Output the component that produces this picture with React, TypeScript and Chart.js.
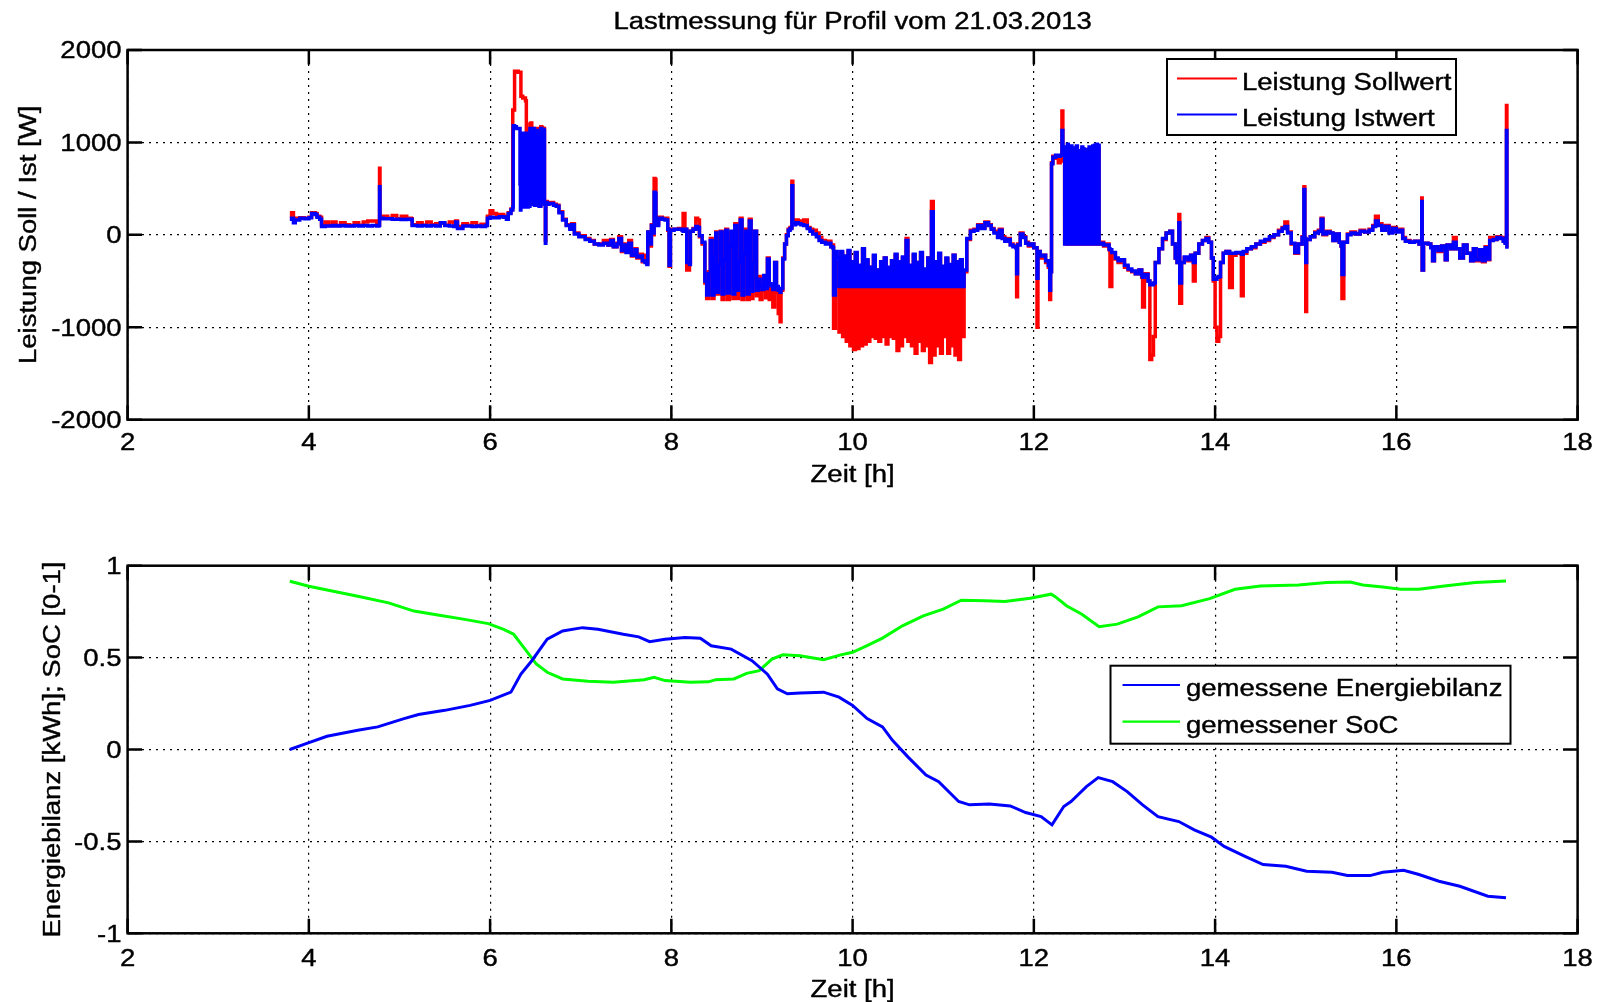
import React, { useEffect, useRef } from "react";
import { Chart, registerables } from "chart.js";

Chart.register(...registerables);

const FONT = "Arial, 'Liberation Sans', Helvetica, sans-serif";
const FONT_SIZE = 23.5;
const TEXT_STRETCH = 1.17;

const chartTitle = "Lastmessung für Profil vom 21.03.2013";
const xAxisTitle = "Zeit [h]";
const topYAxisTitle = "Leistung Soll / Ist [W]";
const bottomYAxisTitle = "Energiebilanz [kWh]; SoC [0-1]";
const topLegendLabels = ["Leistung Sollwert", "Leistung Istwert"];
const bottomLegendLabels = ["gemessene Energiebilanz", "gemessener SoC"];

const xTicks = [2, 4, 6, 8, 10, 12, 14, 16, 18];
const topYTicks = [-2000, -1000, 0, 1000, 2000];
const bottomYTicks = [-1, -0.5, 0, 0.5, 1];

// [Zeit in h, Leistung in W]
const sollwert: number[][] = [
  [3.79,200],[3.81,240],[3.83,170],[3.85,180],[3.9,185],[3.95,180],[4.0,190],[4.03,240],[4.07,230],[4.09,200],
  [4.12,190],[4.14,110],[4.18,140],[4.22,100],[4.26,140],[4.3,100],[4.35,130],[4.4,110],[4.45,100],[4.5,130],
  [4.55,105],[4.6,140],[4.65,150],[4.7,150],[4.75,105],[4.77,110],[4.78,720],[4.785,190],[4.82,200],[4.87,180],
  [4.92,210],[4.97,175],[5.02,200],[5.08,180],[5.13,175],[5.14,110],[5.2,130],[5.25,105],[5.3,140],[5.35,110],
  [5.4,120],[5.45,125],[5.5,105],[5.55,140],[5.6,110],[5.62,150],[5.64,90],[5.7,120],[5.75,105],[5.8,130],
  [5.85,100],[5.9,115],[5.95,105],[5.97,200],[6.0,260],[6.03,230],[6.07,200],[6.1,220],[6.15,190],[6.18,200],
  [6.2,240],[6.23,280],
  [6.25,1350],[6.255,1350],[6.27,1770],[6.29,1770],[6.31,1760],[6.33,1760],[6.335,1760],[6.34,1500],[6.36,1480],
  [6.37,1480],[6.38,1480],[6.39,1450],[6.4,700],[6.41,680],[6.42,1100],[6.43,1150],[6.44,1200],[6.45,1210],
  [6.46,1150],[6.47,350],[6.48,1100],[6.49,340],[6.5,1150],[6.52,1100],[6.525,330],[6.54,320],[6.56,1170],
  [6.57,1160],[6.58,1150],[6.595,1150],[6.6,350],[6.61,-60],[6.615,360],[6.63,340],
  [6.65,350],[6.7,330],[6.73,320],[6.76,250],[6.8,170],[6.84,110],[6.88,80],[6.9,120],[6.93,20],[6.98,-10],
  [7.05,-40],[7.1,-60],[7.15,-100],[7.2,-100],[7.25,-60],[7.3,-110],[7.33,-50],[7.36,-130],[7.4,-90],[7.42,-20],
  [7.45,-180],[7.48,-100],[7.5,-180],[7.53,-60],[7.56,-230],[7.6,-150],[7.62,-250],[7.65,-210],[7.68,-290],
  [7.71,-220],[7.73,-310],[7.74,30],[7.76,-120],[7.78,110],[7.8,0],[7.81,610],[7.82,600],[7.83,120],[7.86,190],
  [7.9,170],[7.93,180],[7.96,50],[7.975,-340],[7.99,60],[8.03,60],[8.08,70],[8.12,50],[8.13,230],[8.15,60],
  [8.17,-380],[8.2,-300],[8.21,40],[8.24,70],[8.27,180],[8.29,160],[8.31,-20],[8.34,-100],
  [8.37,-520],[8.39,-690],[8.41,-400],[8.43,-40],[8.45,-690],[8.47,-200],[8.49,30],[8.5,-640],[8.52,-300],
  [8.54,40],[8.56,-700],[8.58,-250],[8.6,60],[8.62,-700],[8.64,-100],[8.66,20],[8.68,-690],[8.7,120],[8.72,-690],
  [8.74,-300],[8.76,180],[8.78,-700],[8.8,-200],[8.82,60],[8.84,-700],[8.86,170],[8.88,-690],[8.9,-300],[8.92,40],
  [8.94,-660],[8.96,-450],[8.98,-700],[9.0,-600],[9.02,-450],[9.04,-680],[9.06,-250],[9.08,-700],[9.1,-550],
  [9.12,-780],[9.14,-300],[9.16,-620],[9.18,-850],[9.2,-940],[9.21,-600],[9.23,-250],[9.25,-100],[9.27,0],
  [9.29,60],[9.31,80],[9.33,580],[9.34,120],[9.37,160],[9.4,150],[9.43,130],[9.46,160],[9.5,80],[9.53,60],
  [9.56,50],[9.6,20],[9.63,-30],[9.66,-60],[9.7,-80],[9.73,-70],[9.76,-130],[9.78,-110],[9.79,-1010],[9.81,-500],
  [9.83,-300],[9.85,-1050],[9.87,-200],[9.89,-1100],[9.91,-250],[9.93,-1150],[9.95,-180],[9.97,-1200],[9.99,-300],
  [10.01,-1240],[10.03,-200],[10.05,-1230],[10.07,-350],[10.09,-1200],[10.11,-160],[10.13,-1180],[10.15,-280],
  [10.17,-1150],[10.19,-350],[10.21,-1100],[10.23,-230],[10.25,-1120],[10.27,-380],[10.29,-1150],[10.31,-300],
  [10.33,-1100],[10.35,-250],[10.37,-1180],[10.39,-360],[10.41,-1100],[10.43,-280],[10.45,-1120],[10.47,-220],
  [10.49,-1250],[10.51,-300],[10.53,-1200],[10.55,-250],[10.57,-1100],[10.59,-40],[10.61,-1150],[10.63,-350],
  [10.65,-1200],[10.67,-220],[10.69,-1280],[10.71,-300],[10.73,-1150],[10.75,-200],[10.77,-1250],[10.79,-380],
  [10.81,-1200],[10.83,-250],[10.85,-1380],[10.87,360],[10.89,-1300],[10.91,-300],[10.93,-1200],[10.95,-210],
  [10.97,-1280],[10.99,-350],[11.01,-1100],[11.03,-260],[11.05,-1280],[11.07,-330],[11.09,-1200],[11.11,-220],
  [11.13,-1300],[11.15,-300],[11.17,-1350],[11.19,-280],[11.21,-1100],[11.23,-400],
  [11.26,-50],[11.3,50],[11.34,60],[11.38,110],[11.42,80],[11.46,140],[11.5,110],[11.53,70],[11.56,40],[11.6,-20],
  [11.62,60],[11.65,-20],[11.68,-60],[11.71,-40],[11.74,-100],[11.77,-120],[11.8,-130],[11.81,-670],[11.82,-100],
  [11.85,20],[11.88,-20],[11.91,-80],[11.94,-120],[11.97,-100],[12.0,-140],[12.035,-1000],[12.045,-180],
  [12.07,-250],[12.1,-220],[12.13,-300],[12.16,-350],[12.175,-700],[12.185,-400],[12.195,780],[12.21,850],
  [12.24,830],[12.27,780],[12.29,800],[12.31,1340],[12.32,900],
  [12.33,920],[12.34,-90],[12.35,900],[12.36,-100],[12.37,950],[12.38,-90],[12.39,900],[12.4,-100],[12.41,930],
  [12.42,-90],[12.43,920],[12.44,-100],[12.45,880],[12.46,-90],[12.47,950],[12.48,-100],[12.49,900],[12.5,-100],
  [12.51,880],[12.52,-90],[12.53,930],[12.54,-100],[12.55,920],[12.56,-90],[12.57,870],[12.58,-100],[12.59,900],
  [12.6,-90],[12.61,930],[12.62,-100],[12.63,910],[12.64,-90],[12.65,950],[12.66,-100],[12.67,940],[12.68,-90],
  [12.69,950],[12.7,-100],[12.71,940],[12.72,-100],
  [12.74,-80],[12.77,-120],[12.8,-100],[12.83,-160],[12.84,-560],[12.86,-200],[12.9,-260],[12.93,-300],
  [12.96,-280],[13.0,-350],[13.04,-380],[13.08,-400],[13.12,-420],[13.16,-380],[13.19,-460],[13.2,-780],
  [13.22,-420],[13.26,-500],[13.28,-1350],[13.3,-1300],[13.32,-1100],[13.34,-300],[13.38,-150],[13.42,-50],
  [13.46,20],[13.5,40],[13.53,-100],[13.56,-250],[13.58,-300],[13.6,220],[13.61,-740],[13.63,-300],[13.66,-250],
  [13.7,-280],[13.73,-220],[13.76,-500],[13.78,-200],[13.82,-100],[13.86,-60],[13.9,-30],[13.93,-80],[13.96,-250],
  [13.98,-500],[14.0,-1000],[14.02,-1150],[14.04,-1100],[14.06,-300],[14.09,-200],[14.12,-180],[14.16,-570],
  [14.19,-220],[14.23,-200],[14.29,-660],[14.31,-200],[14.35,-150],[14.4,-140],[14.45,-100],[14.5,-80],
  [14.55,-60],[14.6,-30],[14.65,0],[14.7,50],[14.74,80],[14.77,140],[14.8,30],[14.84,-100],[14.88,-200],
  [14.92,-100],[14.96,-20],[14.98,520],[14.99,-40],[15.0,-830],[15.01,-50],[15.05,-20],[15.1,30],[15.14,50],
  [15.17,180],[15.19,0],[15.23,40],[15.27,20],[15.3,-60],[15.33,10],[15.37,-80],[15.39,-120],[15.4,-690],
  [15.42,-80],[15.46,10],[15.5,30],[15.55,10],[15.6,50],[15.65,30],[15.7,60],[15.74,100],[15.77,200],[15.8,120],
  [15.84,60],[15.88,100],[15.92,30],[15.96,80],[16.0,40],[16.04,60],[16.07,-30],[16.1,-60],[16.15,-80],
  [16.2,-70],[16.25,-100],[16.28,400],[16.285,-380],[16.3,-90],[16.35,-100],[16.38,-130],[16.4,-280],
  [16.42,-130],[16.46,-180],[16.5,-120],[16.54,-270],[16.56,-110],[16.6,-150],[16.63,-30],[16.66,-150],
  [16.7,-250],[16.74,-110],[16.78,-200],[16.82,-280],[16.85,-150],[16.88,-280],[16.92,-160],[16.95,-290],
  [16.98,-130],[17.01,-270],[17.03,-30],[17.07,-50],[17.11,-20],[17.15,-30],[17.18,-60],[17.2,-80],
  [17.215,1400],[17.22,-140],
];

// [Zeit in h, Leistung in W]
const istwert: number[][] = [
  [3.79,170],[3.81,180],[3.83,130],[3.85,160],[3.9,180],[3.95,175],[4.0,185],[4.03,230],[4.07,220],[4.09,190],
  [4.12,170],[4.14,90],[4.18,95],[4.22,95],[4.26,100],[4.3,95],[4.35,100],[4.4,95],[4.45,95],[4.5,100],
  [4.55,95],[4.6,100],[4.65,95],[4.7,100],[4.75,95],[4.77,100],[4.78,520],[4.785,180],[4.82,175],[4.87,175],
  [4.92,170],[4.97,170],[5.02,165],[5.08,170],[5.13,165],[5.14,100],[5.2,95],[5.25,100],[5.3,95],[5.35,100],
  [5.4,95],[5.45,130],[5.5,100],[5.55,95],[5.6,90],[5.62,140],[5.64,70],[5.7,95],[5.75,95],[5.8,90],
  [5.85,95],[5.9,90],[5.95,100],[5.97,180],[6.0,190],[6.03,185],[6.07,185],[6.1,195],[6.15,190],[6.18,170],
  [6.2,230],[6.23,270],
  [6.25,300],[6.255,1180],[6.27,1170],[6.29,1150],[6.31,1150],[6.33,550],[6.335,270],[6.34,1050],[6.36,1100],
  [6.37,300],[6.38,1000],[6.39,700],[6.4,1100],[6.41,300],[6.42,1050],[6.43,310],[6.44,1150],[6.45,330],
  [6.46,1100],[6.47,330],[6.48,1150],[6.49,320],[6.5,1130],[6.52,1100],[6.525,320],[6.54,310],[6.56,1150],
  [6.57,350],[6.58,1140],[6.595,1130],[6.6,330],[6.61,-90],[6.615,350],[6.63,330],
  [6.65,340],[6.7,320],[6.73,310],[6.76,240],[6.8,160],[6.84,100],[6.88,60],[6.9,110],[6.93,10],[6.98,-20],
  [7.05,-50],[7.1,-70],[7.15,-100],[7.2,-110],[7.25,-90],[7.3,-110],[7.33,-60],[7.36,-130],[7.4,-100],[7.42,-40],
  [7.45,-170],[7.48,-110],[7.5,-190],[7.53,-90],[7.56,-220],[7.6,-160],[7.62,-240],[7.65,-230],[7.68,-280],
  [7.71,-300],[7.73,-320],[7.74,30],[7.76,-100],[7.78,100],[7.8,20],[7.81,460],[7.82,450],[7.83,100],[7.86,180],
  [7.9,170],[7.93,160],[7.96,60],[7.975,-330],[7.99,50],[8.03,60],[8.08,60],[8.12,50],[8.13,40],[8.15,60],
  [8.17,-300],[8.2,-320],[8.21,40],[8.24,60],[8.27,90],[8.29,80],[8.31,-10],[8.34,-80],
  [8.37,-500],[8.39,-650],[8.41,-420],[8.43,-60],[8.45,-650],[8.47,-220],[8.49,20],[8.5,-620],[8.52,-320],
  [8.54,30],[8.56,-640],[8.58,-270],[8.6,50],[8.62,-630],[8.64,-120],[8.66,40],[8.68,-640],[8.7,100],[8.72,-600],
  [8.74,-300],[8.76,160],[8.78,-650],[8.8,-200],[8.82,40],[8.84,-640],[8.86,150],[8.88,-610],[8.9,-310],[8.92,40],
  [8.94,-600],[8.96,-480],[8.98,-560],[9.0,-590],[9.02,-440],[9.04,-580],[9.06,-260],[9.08,-530],[9.1,-550],
  [9.12,-590],[9.14,-300],[9.16,-560],[9.18,-600],[9.2,-620],[9.21,-580],[9.23,-260],[9.25,-100],[9.27,-10],
  [9.29,50],[9.31,70],[9.33,530],[9.34,110],[9.37,130],[9.4,120],[9.43,110],[9.46,100],[9.5,70],[9.53,40],
  [9.56,10],[9.6,-20],[9.63,-60],[9.66,-80],[9.7,-100],[9.73,-90],[9.76,-130],[9.78,-140],[9.79,-650],[9.81,-180],
  [9.83,-250],[9.85,-560],[9.87,-180],[9.89,-560],[9.91,-230],[9.93,-560],[9.95,-170],[9.97,-560],[9.99,-290],
  [10.01,-560],[10.03,-190],[10.05,-560],[10.07,-330],[10.09,-560],[10.11,-150],[10.13,-560],[10.15,-270],
  [10.17,-560],[10.19,-350],[10.21,-560],[10.23,-220],[10.25,-560],[10.27,-380],[10.29,-560],[10.31,-290],
  [10.33,-560],[10.35,-250],[10.37,-560],[10.39,-350],[10.41,-560],[10.43,-280],[10.45,-560],[10.47,-210],
  [10.49,-560],[10.51,-290],[10.53,-560],[10.55,-240],[10.57,-560],[10.59,-60],[10.61,-560],[10.63,-330],
  [10.65,-560],[10.67,-210],[10.69,-560],[10.71,-300],[10.73,-560],[10.75,-190],[10.77,-560],[10.79,-370],
  [10.81,-560],[10.83,-250],[10.85,-560],[10.87,250],[10.89,-560],[10.91,-290],[10.93,-560],[10.95,-200],
  [10.97,-560],[10.99,-340],[11.01,-560],[11.03,-250],[11.05,-560],[11.07,-320],[11.09,-560],[11.11,-220],
  [11.13,-560],[11.15,-290],[11.17,-560],[11.19,-270],[11.21,-560],[11.23,-380],
  [11.26,-40],[11.3,40],[11.34,50],[11.38,100],[11.42,70],[11.46,130],[11.5,100],[11.53,60],[11.56,20],[11.6,-30],
  [11.62,50],[11.65,-40],[11.68,-70],[11.71,-50],[11.74,-110],[11.77,-130],[11.8,-140],[11.81,-420],[11.82,-110],
  [11.85,10],[11.88,-30],[11.91,-90],[11.94,-110],[11.97,-100],[12.0,-140],[12.035,-470],[12.045,-180],
  [12.07,-230],[12.1,-220],[12.13,-280],[12.16,-330],[12.175,-600],[12.185,-400],[12.195,770],[12.21,840],
  [12.24,860],[12.27,850],[12.29,860],[12.31,1130],[12.32,880],
  [12.33,950],[12.34,-100],[12.35,920],[12.36,-100],[12.37,980],[12.38,-90],[12.39,910],[12.4,-100],[12.41,960],
  [12.42,-90],[12.43,940],[12.44,-100],[12.45,900],[12.46,-100],[12.47,960],[12.48,-100],[12.49,910],[12.5,-100],
  [12.51,900],[12.52,-90],[12.53,950],[12.54,-100],[12.55,930],[12.56,-100],[12.57,880],[12.58,-100],[12.59,920],
  [12.6,-100],[12.61,950],[12.62,-100],[12.63,930],[12.64,-90],[12.65,960],[12.66,-100],[12.67,970],[12.68,-100],
  [12.69,980],[12.7,-100],[12.71,970],[12.72,-100],
  [12.74,-90],[12.77,-110],[12.8,-110],[12.83,-150],[12.84,-160],[12.86,-190],[12.9,-250],[12.93,-280],
  [12.96,-270],[13.0,-330],[13.04,-370],[13.08,-390],[13.12,-420],[13.16,-380],[13.19,-440],[13.2,-460],
  [13.22,-430],[13.26,-500],[13.28,-540],[13.3,-540],[13.32,-520],[13.34,-300],[13.38,-150],[13.42,-40],
  [13.46,20],[13.5,40],[13.53,-100],[13.56,-250],[13.58,-300],[13.6,130],[13.61,-520],[13.63,-300],[13.66,-240],
  [13.7,-270],[13.73,-220],[13.76,-300],[13.78,-200],[13.82,-100],[13.86,-60],[13.9,-40],[13.93,-80],[13.96,-250],
  [13.98,-480],[14.0,-480],[14.02,-460],[14.04,-450],[14.06,-300],[14.09,-200],[14.12,-180],[14.16,-200],
  [14.19,-200],[14.23,-190],[14.29,-210],[14.31,-180],[14.35,-150],[14.4,-130],[14.45,-100],[14.5,-70],
  [14.55,-50],[14.6,-20],[14.65,0],[14.7,40],[14.74,70],[14.77,90],[14.8,20],[14.84,-90],[14.88,-190],
  [14.92,-100],[14.96,-30],[14.98,490],[14.99,-40],[15.0,-300],[15.01,-50],[15.05,-20],[15.1,20],[15.14,40],
  [15.17,170],[15.19,10],[15.23,30],[15.27,20],[15.3,-60],[15.33,10],[15.37,-80],[15.39,-120],[15.4,-430],
  [15.42,-80],[15.46,0],[15.5,20],[15.55,10],[15.6,40],[15.65,30],[15.7,50],[15.74,90],[15.77,150],[15.8,100],
  [15.84,50],[15.88,90],[15.92,20],[15.96,70],[16.0,30],[16.04,50],[16.07,-40],[16.1,-70],[16.15,-80],
  [16.2,-70],[16.25,-100],[16.28,360],[16.285,-380],[16.3,-90],[16.35,-100],[16.38,-140],[16.4,-280],
  [16.42,-130],[16.46,-170],[16.5,-120],[16.54,-270],[16.56,-110],[16.6,-150],[16.63,-80],[16.66,-150],
  [16.7,-250],[16.74,-110],[16.78,-200],[16.82,-280],[16.85,-150],[16.88,-270],[16.92,-160],[16.95,-280],
  [16.98,-140],[17.01,-260],[17.03,-60],[17.07,-50],[17.11,-30],[17.15,-40],[17.18,-70],[17.2,-90],
  [17.215,1130],[17.22,-150],
];

// [Zeit in h, Energiebilanz in kWh]
const energiebilanz: number[][] = [
  [3.79,0],[3.97,0.032],[4.2,0.072],[4.54,0.105],[4.76,0.123],[5.05,0.168],[5.21,0.19],[5.5,0.213],[5.78,0.24],
  [6.0,0.267],[6.23,0.312],[6.34,0.41],[6.46,0.483],[6.63,0.6],[6.8,0.645],[7.02,0.663],[7.19,0.654],[7.47,0.627],
  [7.64,0.613],[7.76,0.587],[7.93,0.6],[8.15,0.609],[8.32,0.605],[8.44,0.564],[8.66,0.546],[8.89,0.483],
  [9.06,0.41],[9.17,0.33],[9.28,0.303],[9.42,0.307],[9.68,0.312],[9.85,0.285],[10.0,0.24],[10.16,0.168],
  [10.33,0.123],[10.44,0.05],[10.61,-0.04],[10.81,-0.139],[10.95,-0.175],[11.17,-0.283],[11.29,-0.301],
  [11.51,-0.296],[11.74,-0.307],[11.91,-0.343],[12.08,-0.365],[12.2,-0.41],[12.33,-0.31],[12.41,-0.283],
  [12.58,-0.202],[12.71,-0.153],[12.87,-0.175],[13.03,-0.229],[13.2,-0.301],[13.37,-0.365],[13.6,-0.392],
  [13.77,-0.437],[13.96,-0.477],[14.1,-0.527],[14.33,-0.581],[14.53,-0.626],[14.78,-0.635],[15.01,-0.662],
  [15.29,-0.668],[15.46,-0.686],[15.71,-0.686],[15.85,-0.668],[16.08,-0.657],[16.25,-0.68],[16.47,-0.717],
  [16.7,-0.744],[17.01,-0.798],[17.21,-0.807],
];

// [Zeit in h, SoC 0-1]
const soc: number[][] = [
  [3.79,0.915],[4.0,0.888],[4.54,0.834],[4.88,0.798],[5.16,0.753],[5.44,0.73],[5.72,0.708],[5.98,0.685],
  [6.15,0.654],[6.26,0.627],[6.4,0.537],[6.51,0.465],[6.63,0.42],[6.8,0.384],[7.08,0.371],[7.36,0.366],
  [7.7,0.38],[7.81,0.393],[7.93,0.375],[8.21,0.366],[8.41,0.368],[8.49,0.38],[8.69,0.384],[8.83,0.414],
  [8.97,0.429],[9.11,0.492],[9.23,0.515],[9.42,0.51],[9.68,0.489],[9.88,0.516],[10.0,0.529],[10.16,0.565],
  [10.33,0.606],[10.55,0.673],[10.78,0.727],[11.0,0.764],[11.2,0.812],[11.46,0.809],[11.68,0.805],[11.96,0.823],
  [12.19,0.845],[12.24,0.83],[12.36,0.782],[12.53,0.736],[12.72,0.668],[12.92,0.682],[13.15,0.722],[13.37,0.776],
  [13.63,0.782],[13.94,0.821],[14.22,0.872],[14.5,0.89],[14.92,0.895],[15.23,0.908],[15.49,0.911],[15.63,0.895],
  [15.85,0.884],[16.05,0.872],[16.25,0.872],[16.53,0.89],[16.87,0.908],[17.21,0.917],
];

const toXY = (pts: number[][]) => pts.map(([x, y]) => ({ x, y }));

function drawText(ctx: CanvasRenderingContext2D, text: string, x: number, y: number, align: CanvasTextAlign, rot = 0) {
  ctx.save();
  ctx.translate(x, y);
  if (rot) ctx.rotate(rot);
  ctx.scale(TEXT_STRETCH, 1);
  ctx.font = `${FONT_SIZE}px ${FONT}`;
  ctx.textAlign = align;
  ctx.textBaseline = "alphabetic";
  ctx.fillStyle = "#000";
  ctx.strokeStyle = "#000";
  ctx.lineWidth = 0.4;
  ctx.fillText(text, 0, 0);
  ctx.strokeText(text, 0, 0);
  ctx.restore();
}

const decorPlugin = {
  id: "decor",
  afterDraw(chart: any, _args: any, opts: any) {
    const { ctx, chartArea: a, scales } = chart;
    const xs = scales.x;
    const ys = scales.y;
    ctx.save();
    // box
    ctx.strokeStyle = "#000";
    ctx.lineWidth = 2.5;
    ctx.strokeRect(a.left, a.top, a.right - a.left, a.bottom - a.top);
    // inward ticks
    const tl = 14.5;
    ctx.beginPath();
    for (const t of xs.ticks) {
      const px = xs.getPixelForValue(t.value);
      ctx.moveTo(px, a.bottom);
      ctx.lineTo(px, a.bottom - tl);
      ctx.moveTo(px, a.top);
      ctx.lineTo(px, a.top + tl);
    }
    for (const t of ys.ticks) {
      const py = ys.getPixelForValue(t.value);
      ctx.moveTo(a.left, py);
      ctx.lineTo(a.left + tl, py);
      ctx.moveTo(a.right, py);
      ctx.lineTo(a.right - tl, py);
    }
    ctx.stroke();
    ctx.restore();

    // tick labels
    for (const t of xs.ticks) {
      drawText(ctx, String(t.value), xs.getPixelForValue(t.value), a.bottom + opts.xTickBaseline, "center");
    }
    for (const t of ys.ticks) {
      drawText(ctx, String(t.value), opts.yTickRight, ys.getPixelForValue(t.value) + opts.yTickShift, "right");
    }
    // titles
    const cx = (a.left + a.right) / 2;
    if (opts.title) drawText(ctx, opts.title, cx, opts.titleBaseline, "center");
    drawText(ctx, opts.xTitle, cx, a.bottom + opts.xTitleBaseline, "center");
    drawText(ctx, opts.yTitle, opts.yTitleBaselineX, (a.top + a.bottom) / 2, "center", -Math.PI / 2);

    // legend
    const lg = opts.legend;
    ctx.save();
    ctx.fillStyle = "#fff";
    ctx.fillRect(lg.x, lg.y, lg.w, lg.h);
    ctx.strokeStyle = "#000";
    ctx.lineWidth = 2;
    ctx.strokeRect(lg.x, lg.y, lg.w, lg.h);
    ctx.restore();
    lg.entries.forEach((idx: number, i: number) => {
      const ds = chart.data.datasets[idx];
      ctx.save();
      ctx.strokeStyle = ds.borderColor;
      ctx.lineWidth = 2.2;
      ctx.beginPath();
      ctx.moveTo(lg.lineX0, lg.lineY[i]);
      ctx.lineTo(lg.lineX1, lg.lineY[i]);
      ctx.stroke();
      ctx.restore();
      drawText(ctx, ds.label, lg.textX, lg.textBaseline[i], "left");
    });
  },
};

function makeScales(yMin: number, yMax: number, yStep: number, xHeight: number) {
  return {
    x: {
      type: "linear",
      min: xTicks[0],
      max: xTicks[xTicks.length - 1],
      afterBuildTicks: (s: any) => {
        s.ticks = xTicks.map((v) => ({ value: v }));
      },
      ticks: { display: false },
      grid: { color: "#000", lineWidth: 1.2, drawTicks: false },
      border: { display: false, dash: [2, 5] },
      afterFit: (s: any) => {
        s.height = xHeight;
      },
    },
    y: {
      type: "linear",
      min: yMin,
      max: yMax,
      ticks: { display: false, stepSize: yStep },
      grid: { color: "#000", lineWidth: 1.2, drawTicks: false },
      border: { display: false, dash: [2, 5] },
      afterFit: (s: any) => {
        s.width = 127.6;
      },
    },
  };
}

export default function App() {
  const topRef = useRef<HTMLCanvasElement>(null);
  const botRef = useRef<HTMLCanvasElement>(null);

  useEffect(() => {
    const top = new Chart(topRef.current as HTMLCanvasElement, {
      type: "line",
      data: {
        datasets: [
          {
            label: topLegendLabels[0],
            data: toXY(sollwert),
            borderColor: "#ff0000",
            backgroundColor: "#ff0000",
            borderWidth: 3.5,
            pointRadius: 0,
            stepped: true,
            order: 2,
          },
          {
            label: topLegendLabels[1],
            data: toXY(istwert),
            borderColor: "#0000ff",
            backgroundColor: "#0000ff",
            borderWidth: 3.5,
            pointRadius: 0,
            stepped: true,
            order: 1,
          },
        ],
      },
      options: {
        responsive: false,
        animation: false,
        devicePixelRatio: 1,
        events: [],
        layout: { padding: { left: 0, right: 23.4, top: 50, bottom: 0 } },
        plugins: {
          legend: { display: false },
          tooltip: { enabled: false },
          decor: {
            title: chartTitle,
            titleBaseline: 29,
            xTitle: xAxisTitle,
            xTitleBaseline: 61.8,
            xTickBaseline: 30.3,
            yTickRight: 121.5,
            yTickShift: 8.4,
            yTitle: topYAxisTitle,
            yTitleBaselineX: 36,
            legend: {
              x: 1167, y: 59, w: 289, h: 76,
              lineX0: 1177, lineX1: 1237, lineY: [78.5, 114.5],
              textX: 1242, textBaseline: [89.5, 125.5],
              entries: [0, 1],
            },
          },
        } as any,
        scales: makeScales(topYTicks[0], topYTicks[topYTicks.length - 1], 1000, 80.3) as any,
      },
      plugins: [decorPlugin],
    } as any);

    const bottom = new Chart(botRef.current as HTMLCanvasElement, {
      type: "line",
      data: {
        datasets: [
          {
            label: bottomLegendLabels[0],
            data: toXY(energiebilanz),
            borderColor: "#0000ff",
            backgroundColor: "#0000ff",
            borderWidth: 3,
            pointRadius: 0,
            tension: 0,
          },
          {
            label: bottomLegendLabels[1],
            data: toXY(soc),
            borderColor: "#00ff00",
            backgroundColor: "#00ff00",
            borderWidth: 3,
            pointRadius: 0,
            tension: 0,
          },
        ],
      },
      options: {
        responsive: false,
        animation: false,
        devicePixelRatio: 1,
        events: [],
        layout: { padding: { left: 0, right: 23.4, top: 65.7, bottom: 0 } },
        plugins: {
          legend: { display: false },
          tooltip: { enabled: false },
          decor: {
            title: "",
            titleBaseline: 0,
            xTitle: xAxisTitle,
            xTitleBaseline: 63.8,
            xTickBaseline: 32.3,
            yTickRight: 121.5,
            yTickShift: 8.4,
            yTitle: bottomYAxisTitle,
            yTitleBaselineX: 59.5,
            legend: {
              x: 1110.5, y: 165.7, w: 400, h: 78,
              lineX0: 1122.5, lineX1: 1180, lineY: [185, 221.7],
              textX: 1186, textBaseline: [196.2, 232.8],
              entries: [0, 1],
            },
          },
        } as any,
        scales: makeScales(bottomYTicks[0], bottomYTicks[bottomYTicks.length - 1], 0.5, 68.7) as any,
      },
      plugins: [decorPlugin],
    } as any);

    return () => {
      top.destroy();
      bottom.destroy();
    };
  }, []);

  return (
    <div style={{ position: "absolute", left: 0, top: 0, width: 1601, height: 1002, background: "#fff" }}>
      <canvas ref={topRef} width={1601} height={500} style={{ position: "absolute", left: 0, top: 0 }} />
      <canvas ref={botRef} width={1601} height={502} style={{ position: "absolute", left: 0, top: 500 }} />
    </div>
  );
}
